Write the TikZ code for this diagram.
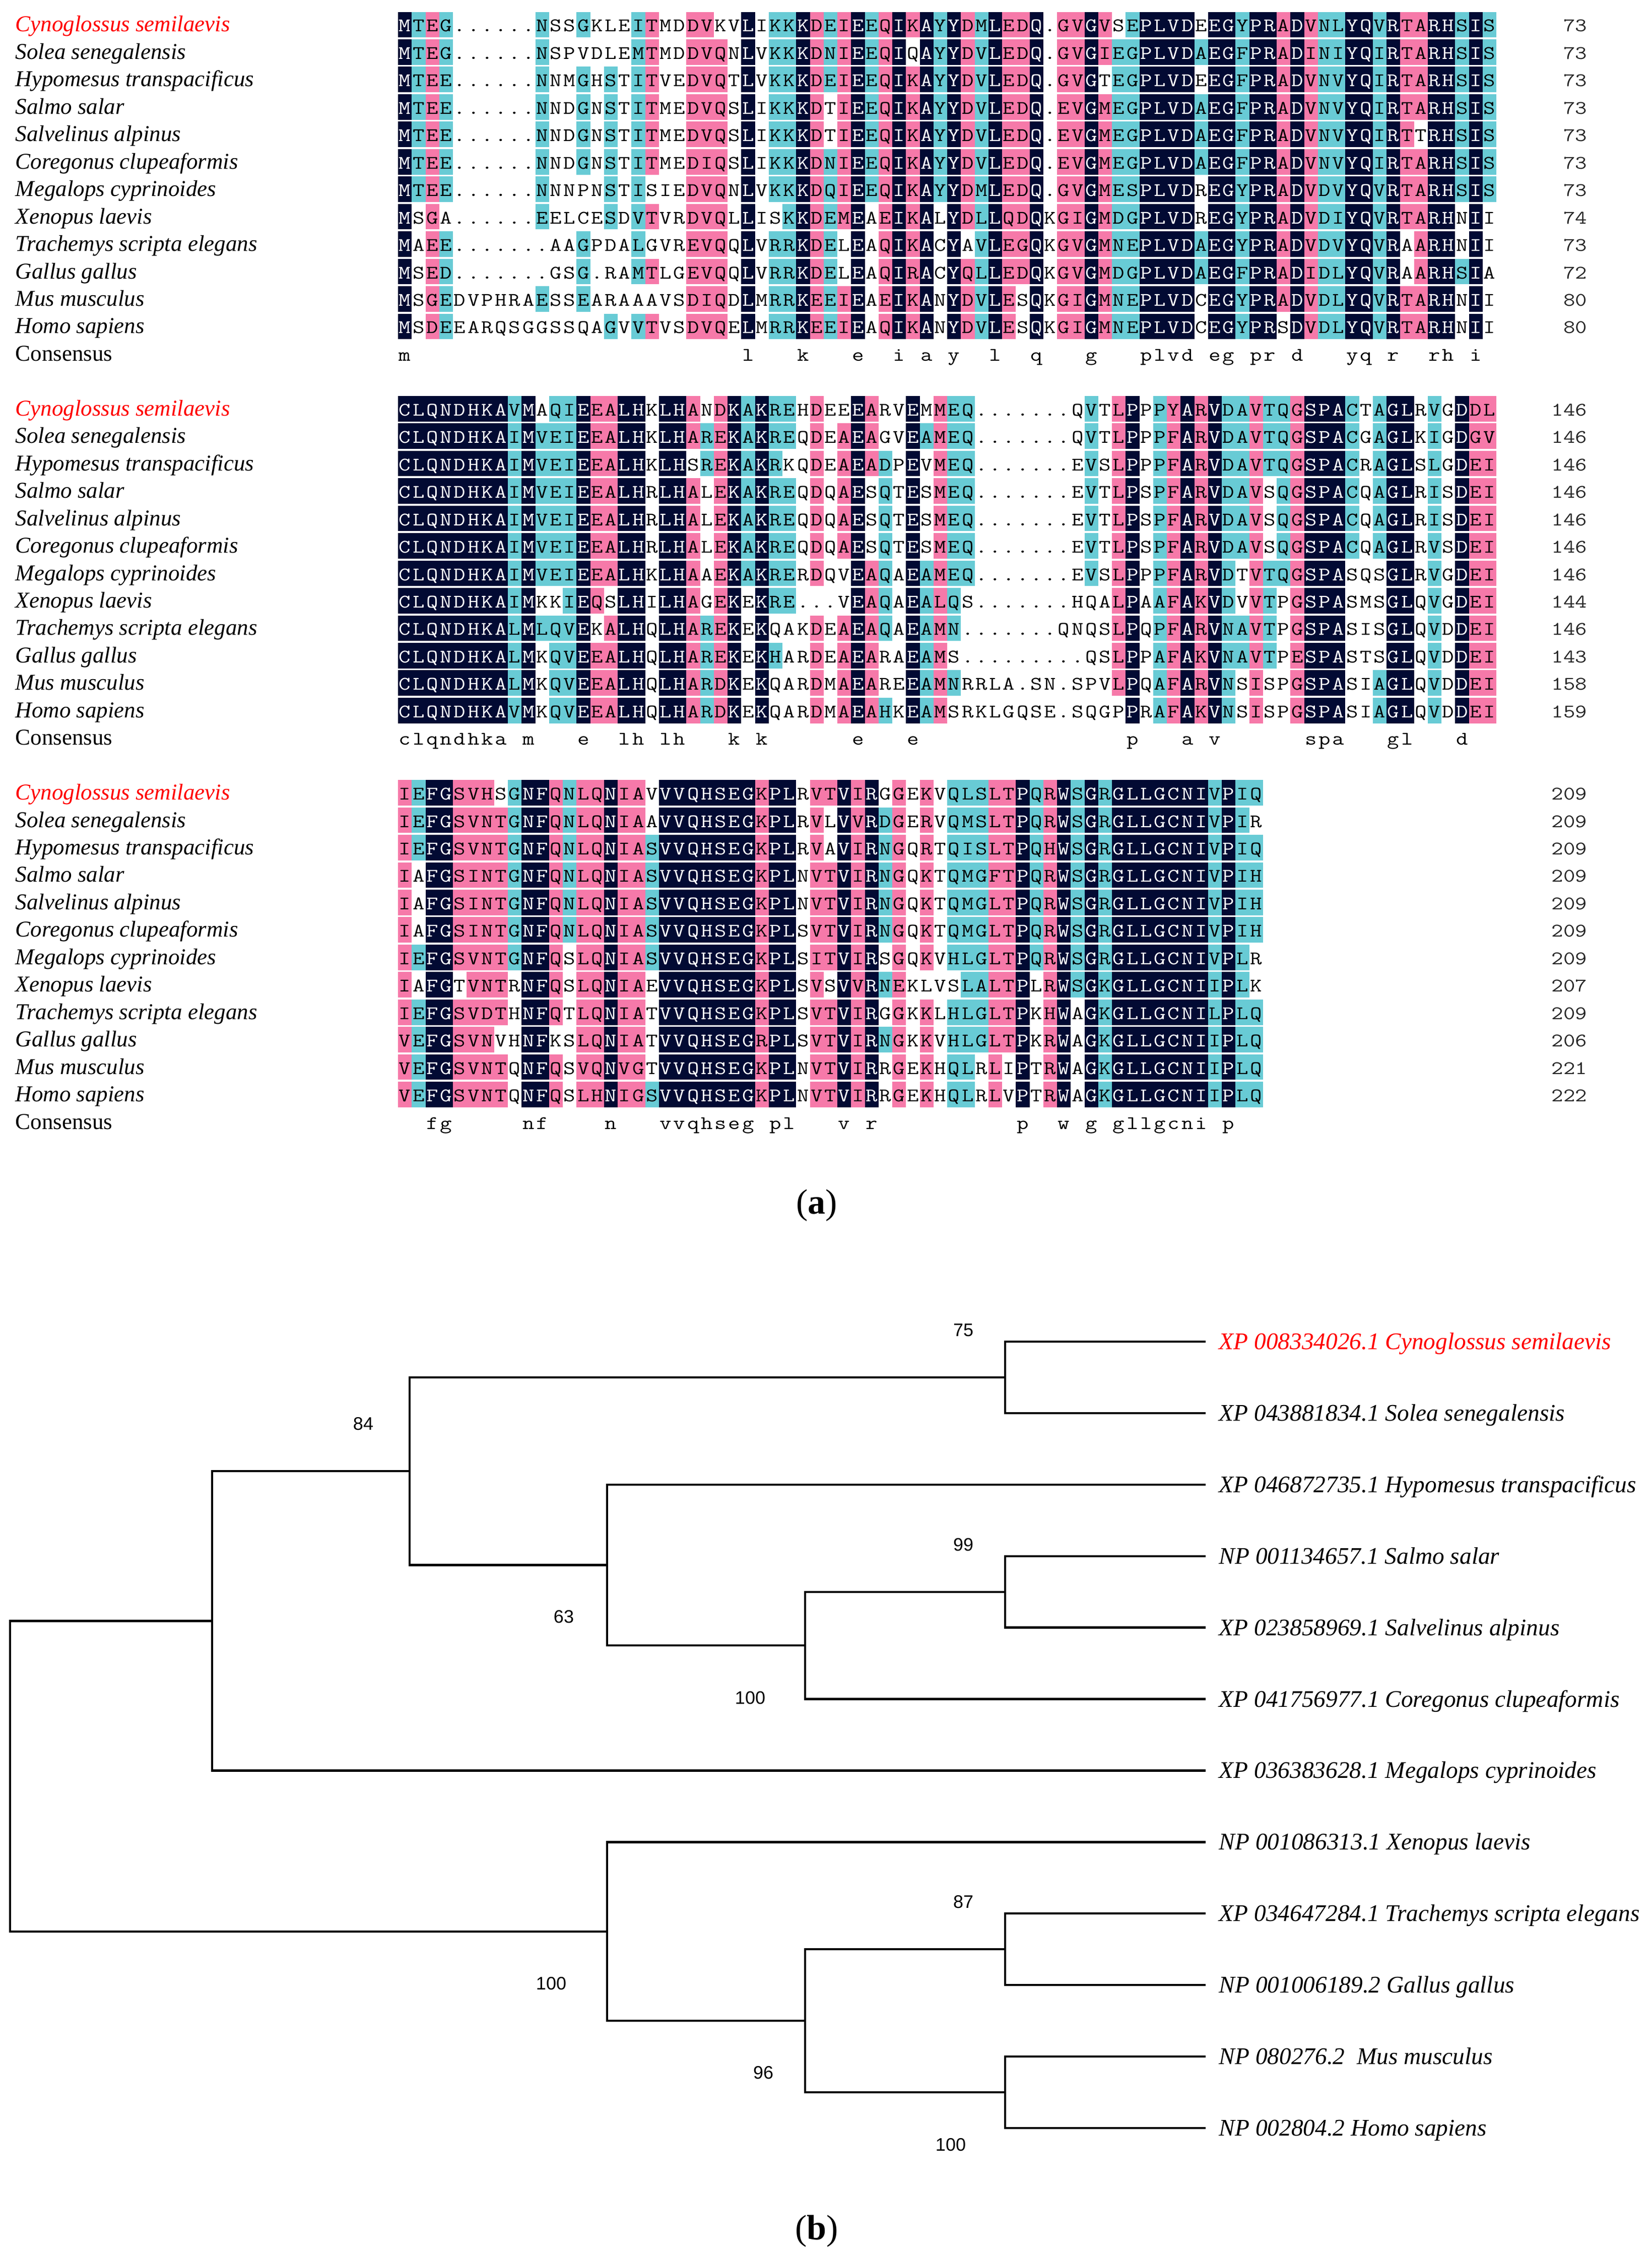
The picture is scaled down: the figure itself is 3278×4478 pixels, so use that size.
\documentclass[tikz,border=0pt]{standalone}
\usepackage{fontspec}
\setmainfont{Liberation Serif}
\newfontfamily\bsfont{Liberation Sans}
\usepackage{graphicx}
\usetikzlibrary{calc}
\definecolor{navyc}{HTML}{020A33}
\definecolor{pinkc}{HTML}{F679A9}
\definecolor{cyanc}{HTML}{68CBD5}
\definecolor{redc}{HTML}{FF0000}
\newcommand\seqfont{\fontsize{11.4}{11.4}\selectfont\ttfamily}
\newcommand\namefont{\fontsize{13.5}{13.5}\selectfont\itshape}
\newcommand\consfont{\fontsize{13.5}{13.5}\selectfont}
\newcommand\treefont{\fontsize{14.2}{14.2}\selectfont\itshape}
\newcommand\bsfnt{\fontsize{10.8}{10.8}\selectfont\bsfont}
\newcommand\lblfont{\fontsize{21}{21}\selectfont}
\newcommand\alnbgn{navyc}
\newcommand\alnbgp{pinkc}
\newcommand\alnbgc{cyanc}
\newcommand\alnbgw{white}
\newcommand\alnfgn{white}
\newcommand\alnfgp{black}
\newcommand\alnfgc{black}
\newcommand\alnfgw{black}
% level strings
\newcommand\levA{ncpcwwwwwwcwwcwcwcpwwpppwnwccnpcpncpnpncnpcnppnwppnpccnnnncnncnnpnpccnncnppnncnc}
\newcommand\levB{nnnnnnnncncccnppnnwnnpcpncnccwpwpnpcwncpccwwwwwwwwcwpnwcpnpnccpccpnnncwcnnwcwnpp}
\newcommand\levC{pcnnppppcnnpcppnppcnnnnnnnpnnwppnpncpwpwcccppncpncncnnnnnnncncc}
\newcommand\alncell[4]{%
  \edef\alntmpbg{\csname alnbg#4\endcsname}%
  \edef\alntmpfg{\csname alnfg#4\endcsname}%
  \if#4w\else
    \fill[fill=\alntmpbg] ({790+(#1-1)*27.25},{23.6+(#2)*54.45}) rectangle ++(27.25,50.7);
  \fi
  \node[anchor=base,inner sep=0pt,text=\alntmpfg,font=\seqfont]
     at ({790+(#1-1)*27.25+13.62},{23.6+(#2)*54.45+39.4}) {\scalebox{1.2}[1]{#3}};}
\newcommand\alncchar[3]{%
  \node[anchor=base,inner sep=0pt,font=\seqfont]
     at ({790+(#1-1)*27.25+13.62},{23.6+(#2)*54.45+39.4}) {\scalebox{1.2}[1]{#3}};}
\newcommand\alnname[3]{%
  \node[anchor=base west,inner sep=0pt,font=\namefont,text=#3] at (30,{23.6+(#1)*54.45+39.4}) {#2};}
\newcommand\alnnum[2]{%
  \node[anchor=base east,inner sep=0pt,font=\seqfont,text=black!85] at (3151,{23.6+(#1)*54.45+39.4}) {\scalebox{1.2}[1]{#2}};}
\newcommand\alnnames[1]{%
  \alnname{#1+0}{Cynoglossus semilaevis}{redc}
  \alnname{#1+1}{Solea senegalensis}{black}
  \alnname{#1+2}{Hypomesus transpacificus}{black}
  \alnname{#1+3}{Salmo salar}{black}
  \alnname{#1+4}{Salvelinus alpinus}{black}
  \alnname{#1+5}{Coregonus clupeaformis}{black}
  \alnname{#1+6}{Megalops cyprinoides}{black}
  \alnname{#1+7}{Xenopus laevis}{black}
  \alnname{#1+8}{Trachemys scripta elegans}{black}
  \alnname{#1+9}{Gallus gallus}{black}
  \alnname{#1+10}{Mus musculus}{black}
  \alnname{#1+11}{Homo sapiens}{black}
  \node[anchor=base west,inner sep=0pt,font=\consfont] at (30,{23.6+(#1+12)*54.45+39.4}) {Consensus};}
\ExplSyntaxOn
\int_new:N \l_aln_col_int
\tl_new:N \l_aln_lev_tl
\tl_new:N \l_aln_k_tl
\tl_new:N \l_aln_c_tl
\clist_new:N \l_aln_exc_clist
\cs_new_protected:Npn \alnrow #1#2#3#4
 {
  \int_zero:N \l_aln_col_int
  \tl_set:Nx \l_aln_lev_tl {#3}
  \clist_set:Nn \l_aln_exc_clist {#4}
  \tl_map_inline:nn {#2}
   {
    \int_incr:N \l_aln_col_int
    \tl_set:Nx \l_aln_k_tl { \int_use:N \l_aln_col_int }
    \tl_set:Nx \l_aln_c_tl { \tl_item:Nn \l_aln_lev_tl { \l_aln_col_int } }
    \exp_args:NNV \clist_if_in:NnT \l_aln_exc_clist \l_aln_k_tl
      { \tl_set:Nn \l_aln_c_tl {w} }
    \alncell {\l_aln_k_tl} {#1} {##1} {\l_aln_c_tl}
   }
 }
\cs_new_protected:Npn \alncons #1#2#3
 {
  \int_zero:N \l_aln_col_int
  \tl_set:Nx \l_aln_lev_tl {#3}
  \tl_map_inline:nn {#2}
   {
    \int_incr:N \l_aln_col_int
    \tl_set:Nx \l_aln_k_tl { \int_use:N \l_aln_col_int }
    \tl_set:Nx \l_aln_c_tl { \tl_item:Nn \l_aln_lev_tl { \l_aln_col_int } }
    \tl_if_eq:NnT \l_aln_c_tl {n}
      { \alncchar {\l_aln_k_tl} {#1} { \str_lowercase:n {##1} } }
   }
 }
\ExplSyntaxOff
\tikzset{
  tree/.style={line width=1.3pt,line join=miter,line cap=rect},
  leaflab/.style={anchor=base west,inner sep=0pt,font=\treefont},
  bs/.style={inner sep=0pt,font=\bsfnt},
}
\begin{document}
\begin{tikzpicture}[x=0.3pt,y=-0.3pt]
\useasboundingbox (0,0) rectangle (3278,4478);
\fill[white] (0,0) rectangle (3278,4478);
% ---------- block 1 ----------
\alnnames{0}
\alnrow{0}{MTEG......NSSGKLEITMDDVKVLIKKKDEIEEQIKAYYDMLEDQ.GVGVSEPLVDEEGYPRADVNLYQVRTARHSIS}{\levA}{16,24,53,59}
\alnrow{1}{MTEG......NSPVDLEMTMDDVQNLVKKKDNIEEQIQAYYDVLEDQ.GVGIEGPLVDAEGFPRADINIYQIRTARHSIS}{\levA}{14,16,38}
\alnrow{2}{MTEE......NNMGHSTITVEDVQTLVKKKDEIEEQIKAYYDVLEDQ.GVGTEGPLVDEEGFPRADVNVYQIRTARHSIS}{\levA}{52,59}
\alnrow{3}{MTEE......NNDGNSTITMEDVQSLIKKKDTIEEQIKAYYDVLEDQ.EVGMEGPLVDAEGFPRADVNVYQIRTARHSIS}{\levA}{32}
\alnrow{4}{MTEE......NNDGNSTITMEDVQSLIKKKDTIEEQIKAYYDVLEDQ.EVGMEGPLVDAEGFPRADVNVYQIRTTRHSIS}{\levA}{32,75}
\alnrow{5}{MTEE......NNDGNSTITMEDIQSLIKKKDNIEEQIKAYYDVLEDQ.EVGMEGPLVDAEGFPRADVNVYQIRTARHSIS}{\levA}{}
\alnrow{6}{MTEE......NNNPNSTISIEDVQNLVKKKDQIEEQIKAYYDMLEDQ.GVGMESPLVDREGYPRADVDVYQVRTARHSIS}{\levA}{14,19,59}
\alnrow{7}{MSGA......EELCESDVTVRDVQLLISKKDEMEAEIKALYDLLQDQKGIGMDGPLVDREGYPRADVDIYQVRTARHNII}{\levA}{2,4,14,28,35,40,59,78,80}
\alnrow{8}{MAEE.......AAGPDALGVREVQQLVRRKDELEAQIKACYAVLEGQKGVGMNEPLVDAEGYPRADVDVYQVRAARHNII}{\levA}{2,11,16,19,33,35,40,42,74,78,80}
\alnrow{9}{MSED.......GSG.RAMTLGEVQQLVRRKDELEAQIRACYQLLEDQKGVGMDGPLVDAEGFPRADIDLYQVRAARHSIA}{\levA}{2,11,16,33,35,40,74,80}
\alnrow{10}{MSGEDVPHRAESSEARAAAVSDIQDLMRRKEEIEAEIKANYDVLESQKGIGMNEPLVDCEGYPRADVDLYQVRTARHNII}{\levA}{2,16,18,19,35,40,46,59,78,80}
\alnrow{11}{MSDEEARQSGGSSQAGVVTVSDVQELMRRKEEIEAQIKANYDVLESQKGIGMNEPLVDCEGYPRSDVDLYQVRTARHNII}{\levA}{2,11,14,35,40,46,59,65,78,80}
\alncons{12}{MTEG......NSSGKLEITMDDVKVLIKKKDEIEEQIKAYYDMLEDQ.GVGVSEPLVDEEGYPRADVNLYQVRTARHSIS}{\levA}
\alnnum{0}{73}\alnnum{1}{73}\alnnum{2}{73}\alnnum{3}{73}\alnnum{4}{73}\alnnum{5}{73}
\alnnum{6}{73}\alnnum{7}{74}\alnnum{8}{73}\alnnum{9}{72}\alnnum{10}{80}\alnnum{11}{80}
% ---------- block 2 ----------
\alnnames{14}
\alnrow{14}{CLQNDHKAVMAQIEEALHKLHANDKAKREHDEEEARVEMMEQ.......QVTLPPPYARVDAVTQGSPACTAGLRVGDDL}{\levB}{11,23,33,36,39}
\alnrow{15}{CLQNDHKAIMVEIEEALHKLHAREKAKREQDEAEAGVEAMEQ.......QVTLPPPFARVDAVTQGSPACGAGLKIGDGV}{\levB}{36}
\alnrow{16}{CLQNDHKAIMVEIEEALHKLHSREKAKRKQDEAEADPEVMEQ.......EVSLPPPFARVDAVTQGSPACRAGLSLGDEI}{\levB}{22,29,39}
\alnrow{17}{CLQNDHKAIMVEIEEALHRLHALEKAKREQDQAESQTESMEQ.......EVTLPSPFARVDAVSQGSPACQAGLRISDEI}{\levB}{23,35,39,64}
\alnrow{18}{CLQNDHKAIMVEIEEALHRLHALEKAKREQDQAESQTESMEQ.......EVTLPSPFARVDAVSQGSPACQAGLRISDEI}{\levB}{23,35,39,64}
\alnrow{19}{CLQNDHKAIMVEIEEALHRLHALEKAKREQDQAESQTESMEQ.......EVTLPSPFARVDAVSQGSPACQAGLRVSDEI}{\levB}{23,35,39,64}
\alnrow{20}{CLQNDHKAIMVEIEEALHKLHAAEKAKRERDQVEAQAEAMEQ.......EVSLPPPFARVDTVTQGSPASQSGLRVGDEI}{\levB}{23,33,62,70,72}
\alnrow{21}{CLQNDHKAIMKKIEQSLHILHAGEKEKRE...VEAQAEALQS.......HQALPAAFAKVDVVTPGSPASMSGLQVGDEI}{\levB}{11,12,16,23,26,31,33,42,51,62,65,70,72}
\alnrow{22}{CLQNDHKALMLQVEKALHQLHAREKEKQAKDEAEAQAEAMN.......QNQSLPQPFARVNAVTPGSPASISGLQVDDEI}{\levB}{15,26,28,29,42,51,65,70,72}
\alnrow{23}{CLQNDHKALMKQVEEALHQLHAREKEKHARDEAEARAEAMS.........QSLPPAFAKVNAVTPESPASTSGLQVDDEI}{\levB}{11,26,29,36,41,42,51,65,70,72}
\alnrow{24}{CLQNDHKALMKQVEEALHQLHARDKEKQARDMAEAREEAMNRRLA.SN.SPVLPQAFARVNSISPGSPASIAGLQVDDEI}{\levB}{11,26,28,29,36,42,51,62,64,65,70}
\alnrow{25}{CLQNDHKAVMKQVEEALHQLHARDKEKQARDMAEAHKEAMSRKLGQSE.SQGPPRAFAKVNSISPGSPASIAGLQVDDEI}{\levB}{11,26,28,29,41,42,51,53,62,64,65,70}
\alncons{26}{CLQNDHKAVMAQIEEALHKLHANDKAKREHDEEEARVEMMEQ.......QVTLPPPYARVDAVTQGSPACTAGLRVGDDL}{\levB}
\alnnum{14}{146}\alnnum{15}{146}\alnnum{16}{146}\alnnum{17}{146}\alnnum{18}{146}\alnnum{19}{146}
\alnnum{20}{146}\alnnum{21}{144}\alnnum{22}{146}\alnnum{23}{143}\alnnum{24}{158}\alnnum{25}{159}
% ---------- block 3 ----------
\alnnames{28}
\alnrow{28}{IEFGSVHSGNFQNLQNIAVVVQHSEGKPLRVTVIRGGEKVQLSLTPQRWSGRGLLGCNIVPIQ}{\levC}{8,19,36}
\alnrow{29}{IEFGSVNTGNFQNLQNIAAVVQHSEGKPLRVLVVRDGERVQMSLTPQRWSGRGLLGCNIVPIR}{\levC}{19,32,63}
\alnrow{30}{IEFGSVNTGNFQNLQNIASVVQHSEGKPLRVAVIRNGQRTQISLTPQHWSGRGLLGCNIVPIQ}{\levC}{32}
\alnrow{31}{IAFGSINTGNFQNLQNIASVVQHSEGKPLNVTVIRNGQKTQMGFTPQRWSGRGLLGCNIVPIH}{\levC}{2}
\alnrow{32}{IAFGSINTGNFQNLQNIASVVQHSEGKPLNVTVIRNGQKTQMGLTPQRWSGRGLLGCNIVPIH}{\levC}{2}
\alnrow{33}{IAFGSINTGNFQNLQNIASVVQHSEGKPLSVTVIRNGQKTQMGLTPQRWSGRGLLGCNIVPIH}{\levC}{2}
\alnrow{34}{IEFGSVNTGNFQSLQNIASVVQHSEGKPLSITVIRSGQKVHLGLTPQRWSGRGLLGCNIVPLR}{\levC}{13,36,63}
\alnrow{35}{IAFGTVNTRNFQSLQNIAEVVQHSEGKPLSVSVVRNEKLVSLALTPLRWSGKGLLGCNIIPLK}{\levC}{2,5,9,13,19,32,39,41,47,63}
\alnrow{36}{IEFGSVDTHNFQTLQNIATVVQHSEGKPLSVTVIRGGKKLHLGLTPKHWAGKGLLGCNILPLQ}{\levC}{9,13,19,36,47,50}
\alnrow{37}{VEFGSVNVHNFKSLQNIATVVQHSEGRPLSVTVIRNGKKVHLGLTPKRWAGKGLLGCNIIPLQ}{\levC}{8,9,12,13,19,47,50}
\alnrow{38}{VEFGSVNTQNFQSVQNVGTVVQHSEGKPLNVTVIRRGEKHQLRLIPTRWAGKGLLGCNIIPLQ}{\levC}{9,13,19,36,43,45,47,50}
\alnrow{39}{VEFGSVNTQNFQSLHNIGSVVQHSEGKPLNVTVIRRGEKHQLRLVPTRWAGKGLLGCNIIPLQ}{\levC}{9,13,36,43,45,47,50}
\alncons{40}{IEFGSVHSGNFQNLQNIAVVVQHSEGKPLRVTVIRGGEKVQLSLTPQRWSGRGLLGCNIVPIQ}{\levC}
\alnnum{28}{209}\alnnum{29}{209}\alnnum{30}{209}\alnnum{31}{209}\alnnum{32}{209}\alnnum{33}{209}
\alnnum{34}{209}\alnnum{35}{207}\alnnum{36}{209}\alnnum{37}{206}\alnnum{38}{221}\alnnum{39}{222}
% ---------- captions ----------
\node[font=\lblfont] (capa) at (1621,2393) {(\textbf{a})};
\node[font=\lblfont] (capb) at (1621,4429) {(\textbf{b})};
% ---------- tree ----------
\coordinate (L1) at (2391,2663.0);
\coordinate (L2) at (2391,2804.9);
\coordinate (L3) at (2391,2946.8);
\coordinate (L4) at (2391,3088.7);
\coordinate (L5) at (2391,3230.6);
\coordinate (L6) at (2391,3372.5);
\coordinate (L7) at (2391,3514.4);
\coordinate (L8) at (2391,3656.3);
\coordinate (L9) at (2391,3798.2);
\coordinate (L10) at (2391,3940.1);
\coordinate (L11) at (2391,4082.0);
\coordinate (L12) at (2391,4223.9);
\coordinate (nA) at (1995,2734.0);
\coordinate (nB) at (1995,3159.7);
\coordinate (nC) at (1598,3266.1);
\coordinate (nD) at (1205,3106.4);
\coordinate (nE) at (813,2920.2);
\coordinate (nF) at (421,3217.3);
\coordinate (nG) at (1995,3869.2);
\coordinate (nH) at (1995,4153.0);
\coordinate (nI) at (1598,4011.1);
\coordinate (nJ) at (1205,3833.7);
\coordinate (nR) at (20,3525.5);
\draw[tree] (nA) |- (L1); \draw[tree] (nA) |- (L2);
\draw[tree] (nB) |- (L4); \draw[tree] (nB) |- (L5);
\draw[tree] (nC) |- (nB); \draw[tree] (nC) |- (L6);
\draw[tree] (nD) |- (L3); \draw[tree] (nD) |- (nC);
\draw[tree] (nE) |- (nA); \draw[tree] (nE) |- (nD);
\draw[tree] (nF) |- (nE); \draw[tree] (nF) |- (L7);
\draw[tree] (nG) |- (L9); \draw[tree] (nG) |- (L10);
\draw[tree] (nH) |- (L11); \draw[tree] (nH) |- (L12);
\draw[tree] (nI) |- (nG); \draw[tree] (nI) |- (nH);
\draw[tree] (nJ) |- (L8); \draw[tree] (nJ) |- (nI);
\draw[tree] (nR) |- (nF); \draw[tree] (nR) |- (nJ);
\node[leaflab,text=redc] (T1) at ($(L1)+(28,15.5)$) {XP 008334026.1 Cynoglossus semilaevis};
\node[leaflab] (T2) at ($(L2)+(28,15.5)$) {XP 043881834.1 Solea senegalensis};
\node[leaflab] (T3) at ($(L3)+(28,15.5)$) {XP 046872735.1 Hypomesus transpacificus};
\node[leaflab] (T4) at ($(L4)+(28,15.5)$) {NP 001134657.1 Salmo salar};
\node[leaflab] (T5) at ($(L5)+(28,15.5)$) {XP 023858969.1 Salvelinus alpinus};
\node[leaflab] (T6) at ($(L6)+(28,15.5)$) {XP 041756977.1 Coregonus clupeaformis};
\node[leaflab] (T7) at ($(L7)+(28,15.5)$) {XP 036383628.1 Megalops cyprinoides};
\node[leaflab] (T8) at ($(L8)+(28,15.5)$) {NP 001086313.1 Xenopus laevis};
\node[leaflab] (T9) at ($(L9)+(28,15.5)$) {XP 034647284.1 Trachemys scripta elegans};
\node[leaflab] (T10) at ($(L10)+(28,15.5)$) {NP 001006189.2 Gallus gallus};
\node[leaflab] (T11) at ($(L11)+(28,15.5)$) {NP 080276.2\ \ Mus musculus};
\node[leaflab] (T12) at ($(L12)+(28,15.5)$) {NP 002804.2 Homo sapiens};
\node[bs] (bA) at ($(nA)+(-83,-94)$) {75};
\node[bs] (bE) at ($(nE)+(-92,-94)$) {84};
\node[bs] (bB) at ($(nB)+(-83,-94)$) {99};
\node[bs] (bD) at ($(nD)+(-86,103)$) {63};
\node[bs] (bC) at ($(nC)+(-109,104)$) {100};
\node[bs] (bG) at ($(nG)+(-83,-94)$) {87};
\node[bs] (bJ) at ($(nJ)+(-111,103)$) {100};
\node[bs] (bI) at ($(nI)+(-83,103)$) {96};
\node[bs] (bH) at ($(nH)+(-108,104)$) {100};
\end{tikzpicture}
\end{document}
